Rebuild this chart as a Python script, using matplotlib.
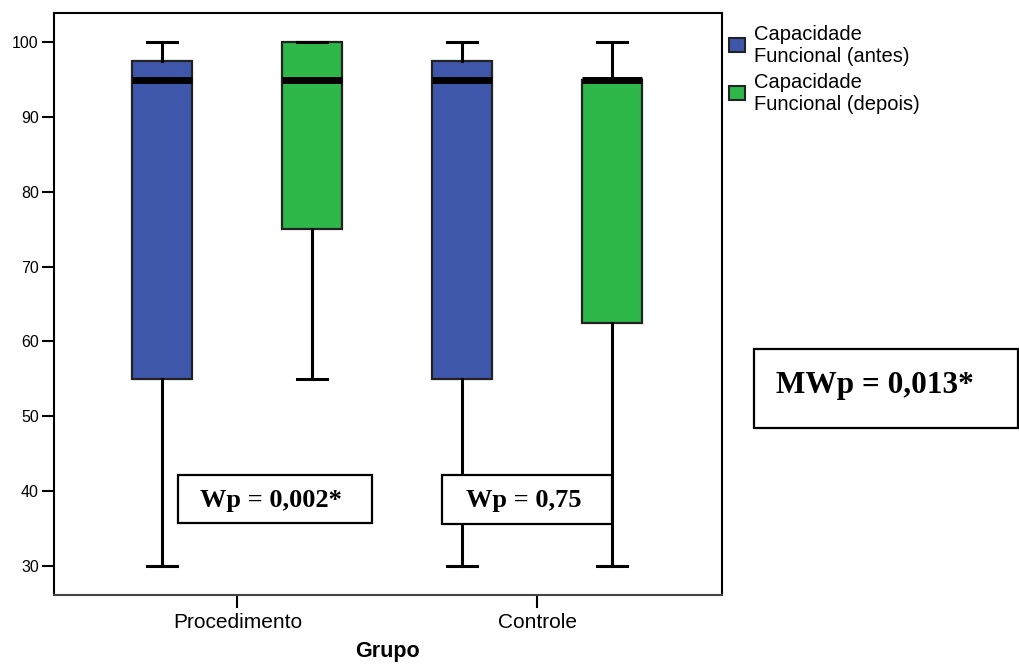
import matplotlib
matplotlib.use("Agg")
import matplotlib.pyplot as plt
from matplotlib.patches import Rectangle

plt.rcParams['font.family'] = ['Liberation Sans', 'DejaVu Sans']

groups = ["Procedimento", "Controle"]
series = ["Capacidade\nFuncional (antes)", "Capacidade\nFuncional (depois)"]
colors = ["#3E57AA", "#2FB84A"]
# per box: [whislo, q1, med, q3, whishi]  order: Proc antes, Proc depois, Ctrl antes, Ctrl depois
whislo = [30, 55, 30, 30]
q1 = [55, 75, 55, 62.5]
med = [95, 95, 95, 95]
q3 = [97.5, 100, 97.5, 95]
whishi = [100, 100, 100, 100]
yticks = [30, 40, 50, 60, 70, 80, 90, 100]
annot_group = ["Wp = 0,002*", "Wp = 0,75"]
annot_mw = "MWp = 0,013*"
xlabel = "Grupo"

W, H = 1020, 664
fig = plt.figure(figsize=(W / 100, H / 100), dpi=100)
ax = fig.add_axes([54 / W, 1 - 595 / H, (722 - 54) / W, (595 - 13) / H])

positions = [1, 2, 3, 4]
stats = []
for i in range(4):
    stats.append(dict(whislo=whislo[i], q1=q1[i], med=med[i], q3=q3[i], whishi=whishi[i], fliers=[]))

bp = ax.bxp(stats, positions=positions, widths=0.4, patch_artist=True, showfliers=False,
            boxprops=dict(linewidth=1.6, edgecolor="#222222"),
            whiskerprops=dict(linewidth=2.2, color="black"),
            capprops=dict(linewidth=2.2, color="black"),
            medianprops=dict(linewidth=5, color="black", solid_capstyle="butt"),
            capwidths=0.2)
for i, b in enumerate(bp["boxes"]):
    b.set_facecolor(colors[i % 2])
    b.set_zorder(2)
for m in bp["medians"]:
    m.set_zorder(3)

ax.set_xlim(0.277, 4.73)
ax.set_ylim(26.1, 103.9)
ax.set_yticks(yticks)
ax.set_yticklabels([str(v) for v in yticks], fontsize=11.5)
ax.set_xticks([1.5, 3.5])
ax.set_xticklabels(groups, fontsize=15)
ax.tick_params(axis="y", length=9, width=1.5, pad=2)
ax.tick_params(axis="x", length=9, width=1.5, pad=4)
for s in ax.spines.values():
    s.set_linewidth(1.5)
ax.spines["bottom"].set_color("#444444")
fig.text(387 / W, 1 - 652 / H, xlabel, ha="center", va="center", fontsize=15.5, fontweight="bold")

def px_rect(x0, y0, x1, y1, lw=1.6):
    r = Rectangle((x0 / W, 1 - y1 / H), (x1 - x0) / W, (y1 - y0) / H, transform=fig.transFigure,
                  facecolor="white", edgecolor="black", linewidth=lw, zorder=5)
    fig.add_artist(r)

# group annotation boxes
px_rect(178, 475, 372, 523)
fig.text(271 / W, 1 - 500 / H, annot_group[0], ha="center", va="center", fontsize=19,
         fontweight="bold", family="Liberation Serif", zorder=6)
px_rect(442, 475, 612, 524)
fig.text(524 / W, 1 - 500 / H, annot_group[1], ha="center", va="center", fontsize=19,
         fontweight="bold", family="Liberation Serif", zorder=6)
# Mann-Whitney box
px_rect(754, 349, 1018, 428)
fig.text(875 / W, 1 - 385 / H, annot_mw, ha="center", va="center", fontsize=22.5,
         fontweight="bold", family="Liberation Serif", zorder=6)

# legend
sq_y = [45, 93]
for i in range(2):
    r = Rectangle((729 / W, 1 - (sq_y[i] + 7) / H), 16 / W, 14 / H, transform=fig.transFigure,
                  facecolor=colors[i], edgecolor="#222222", linewidth=1.5)
    fig.add_artist(r)
    fig.text(754 / W, 1 - (sq_y[i] + 1) / H, series[i], ha="left", va="center", fontsize=14.5,
             linespacing=1.2)

fig.savefig("out.png", dpi=100)
